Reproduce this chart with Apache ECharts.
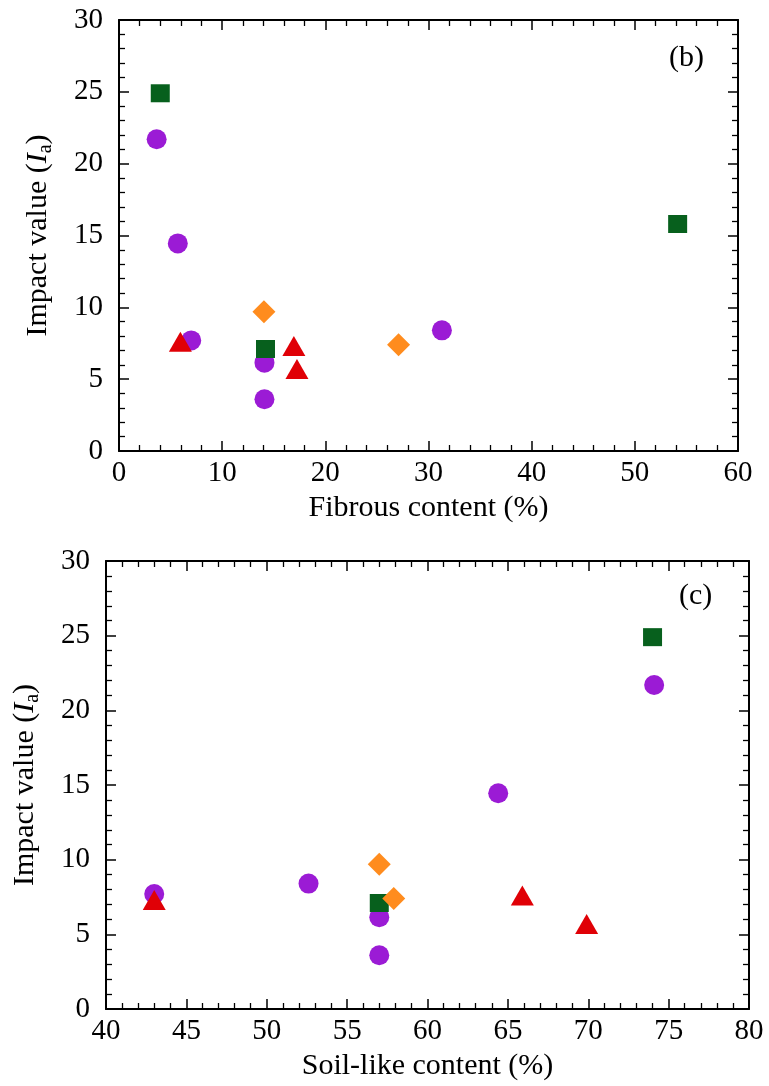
<!DOCTYPE html>
<html>
<head>
<meta charset="utf-8">
<script src="https://cdn.jsdelivr.net/npm/echarts@6/dist/echarts.min.js"></script>
<style>
html,body{margin:0;padding:0;background:#fff;}
#chart{width:769px;height:1086px;}
</style>
</head>
<body>
<div id="chart"></div>
<script>
// Purple circles
var circleFibrous = [3.65, 5.7, 7.0, 14.1, 14.1, 31.3];
var circleSoil    = [74.1, 64.4, 43.0, 57.0, 57.0, 52.6];
var circleIa      = [21.7, 14.45, 7.7, 6.15, 3.6, 8.4];
// Green squares (third has no soil-like value)
var squareFibrous = [4.0, 14.2, 54.15];
var squareSoil    = [74.0, 57.0, null];
var squareIa      = [24.9, 7.1, 15.8];
// Orange diamonds
var diamondFibrous = [14.05, 27.1];
var diamondSoil    = [57.0, 57.9];
var diamondIa      = [9.7, 7.4];
// Red triangles
var triangleFibrous = [5.95, 16.95, 17.25];
var triangleSoil    = [65.9, 43.0, 69.9];
var triangleIa      = [7.6, 7.3, 5.7];

var xTicksTop = [0, 10, 20, 30, 40, 50, 60];
var xTicksBottom = [40, 45, 50, 55, 60, 65, 70, 75, 80];
var yTicks = [0, 5, 10, 15, 20, 25, 30];

var FONT = 'Liberation Serif';
var TICKFS = 29;
var NAMEFS = 30;

function pairs(xs, ys) {
  var out = [];
  for (var i = 0; i < xs.length; i++) {
    if (xs[i] != null && ys[i] != null) out.push([xs[i], ys[i]]);
  }
  return out;
}

function axisCommon(extra) {
  var base = {
    type: 'value',
    splitLine: {show: false},
    axisLine: {show: true, onZero: false, lineStyle: {color: '#000', width: 2}},
    axisTick: {show: true, inside: true, length: 10, lineStyle: {color: '#000', width: 1.5}},
    minorTick: {show: true, splitNumber: 5, length: 6, lineStyle: {color: '#000', width: 1.3}},
    axisLabel: {color: '#000', fontFamily: FONT, fontSize: TICKFS},
    nameTextStyle: {color: '#000', fontFamily: FONT, fontSize: NAMEFS}
  };
  for (var k in extra) base[k] = extra[k];
  return base;
}

var yName = 'Impact value ({it|I}{sub|a})';
var yNameStyle = {
  color: '#000', fontFamily: FONT, fontSize: NAMEFS,
  rich: {
    it: {fontStyle: 'italic', fontFamily: FONT, fontSize: NAMEFS, color: '#000'},
    sub: {fontFamily: FONT, fontSize: 20, color: '#000', padding: [15, 0, 0, 0]}
  }
};

var colors = {circle: '#9B1BD5', square: '#07601D', diamond: '#FF8C1E', triangle: '#E00006'};

var option = {
  animation: false,
  backgroundColor: '#fff',
  grid: [
    {left: 119, top: 20, width: 619, height: 431},
    {left: 106, top: 561, width: 643, height: 448}
  ],
  xAxis: [
    axisCommon({gridIndex: 0, position: 'bottom', min: xTicksTop[0], max: xTicksTop[xTicksTop.length - 1], interval: 10,
      name: 'Fibrous content (%)', nameLocation: 'middle', nameGap: 42,
      axisLabel: {color: '#000', fontFamily: FONT, fontSize: TICKFS, margin: 8}}),
    axisCommon({gridIndex: 0, position: 'top', min: xTicksTop[0], max: xTicksTop[xTicksTop.length - 1], interval: 10,
      axisLabel: {show: false}}),
    axisCommon({gridIndex: 1, position: 'bottom', min: xTicksBottom[0], max: xTicksBottom[xTicksBottom.length - 1], interval: 5,
      name: 'Soil-like content (%)', nameLocation: 'middle', nameGap: 42,
      axisLabel: {color: '#000', fontFamily: FONT, fontSize: TICKFS, margin: 8}}),
    axisCommon({gridIndex: 1, position: 'top', min: xTicksBottom[0], max: xTicksBottom[xTicksBottom.length - 1], interval: 5,
      axisLabel: {show: false}})
  ],
  yAxis: [
    axisCommon({gridIndex: 0, position: 'left', min: yTicks[0], max: yTicks[yTicks.length - 1], interval: 5,
      name: yName, nameLocation: 'middle', nameGap: 63, nameRotate: 90, nameTextStyle: yNameStyle,
      axisLabel: {color: '#000', fontFamily: FONT, fontSize: TICKFS, margin: 16}}),
    axisCommon({gridIndex: 0, position: 'right', min: yTicks[0], max: yTicks[yTicks.length - 1], interval: 5,
      axisLabel: {show: false}}),
    axisCommon({gridIndex: 1, position: 'left', min: yTicks[0], max: yTicks[yTicks.length - 1], interval: 5,
      name: yName, nameLocation: 'middle', nameGap: 63, nameRotate: 90, nameTextStyle: yNameStyle,
      axisLabel: {color: '#000', fontFamily: FONT, fontSize: TICKFS, margin: 16}}),
    axisCommon({gridIndex: 1, position: 'right', min: yTicks[0], max: yTicks[yTicks.length - 1], interval: 5,
      axisLabel: {show: false}})
  ],
  series: [
    {type: 'scatter', xAxisIndex: 0, yAxisIndex: 0, data: pairs(circleFibrous, circleIa),
      symbol: 'circle', symbolSize: 20, itemStyle: {color: colors.circle, opacity: 1}},
    {type: 'scatter', xAxisIndex: 0, yAxisIndex: 0, data: pairs(squareFibrous, squareIa),
      symbol: 'rect', symbolSize: [19, 18], itemStyle: {color: colors.square, opacity: 1}},
    {type: 'scatter', xAxisIndex: 0, yAxisIndex: 0, data: pairs(diamondFibrous, diamondIa),
      symbol: 'diamond', symbolSize: 23, itemStyle: {color: colors.diamond, opacity: 1}},
    {type: 'scatter', xAxisIndex: 0, yAxisIndex: 0, data: pairs(triangleFibrous, triangleIa),
      symbol: 'triangle', symbolSize: [23, 20], itemStyle: {color: colors.triangle, opacity: 1}},

    {type: 'scatter', xAxisIndex: 2, yAxisIndex: 2, data: pairs(circleSoil, circleIa),
      symbol: 'circle', symbolSize: 20, itemStyle: {color: colors.circle, opacity: 1}},
    {type: 'scatter', xAxisIndex: 2, yAxisIndex: 2, data: pairs(squareSoil, squareIa),
      symbol: 'rect', symbolSize: [19, 18], itemStyle: {color: colors.square, opacity: 1}},
    {type: 'scatter', xAxisIndex: 2, yAxisIndex: 2, data: pairs(diamondSoil, diamondIa),
      symbol: 'diamond', symbolSize: 23, itemStyle: {color: colors.diamond, opacity: 1}},
    {type: 'scatter', xAxisIndex: 2, yAxisIndex: 2, data: pairs(triangleSoil, triangleIa),
      symbol: 'triangle', symbolSize: [23, 20], itemStyle: {color: colors.triangle, opacity: 1}}
  ],
  graphic: [
    {type: 'text', left: 669, top: 43, style: {text: '(b)', font: '30px "Liberation Serif"', fill: '#000'}},
    {type: 'text', left: 679, top: 581, style: {text: '(c)', font: '30px "Liberation Serif"', fill: '#000'}}
  ]
};

var chart = echarts.init(document.getElementById('chart'), null, {renderer: 'canvas'});
chart.setOption(option);
</script>
</body>
</html>
